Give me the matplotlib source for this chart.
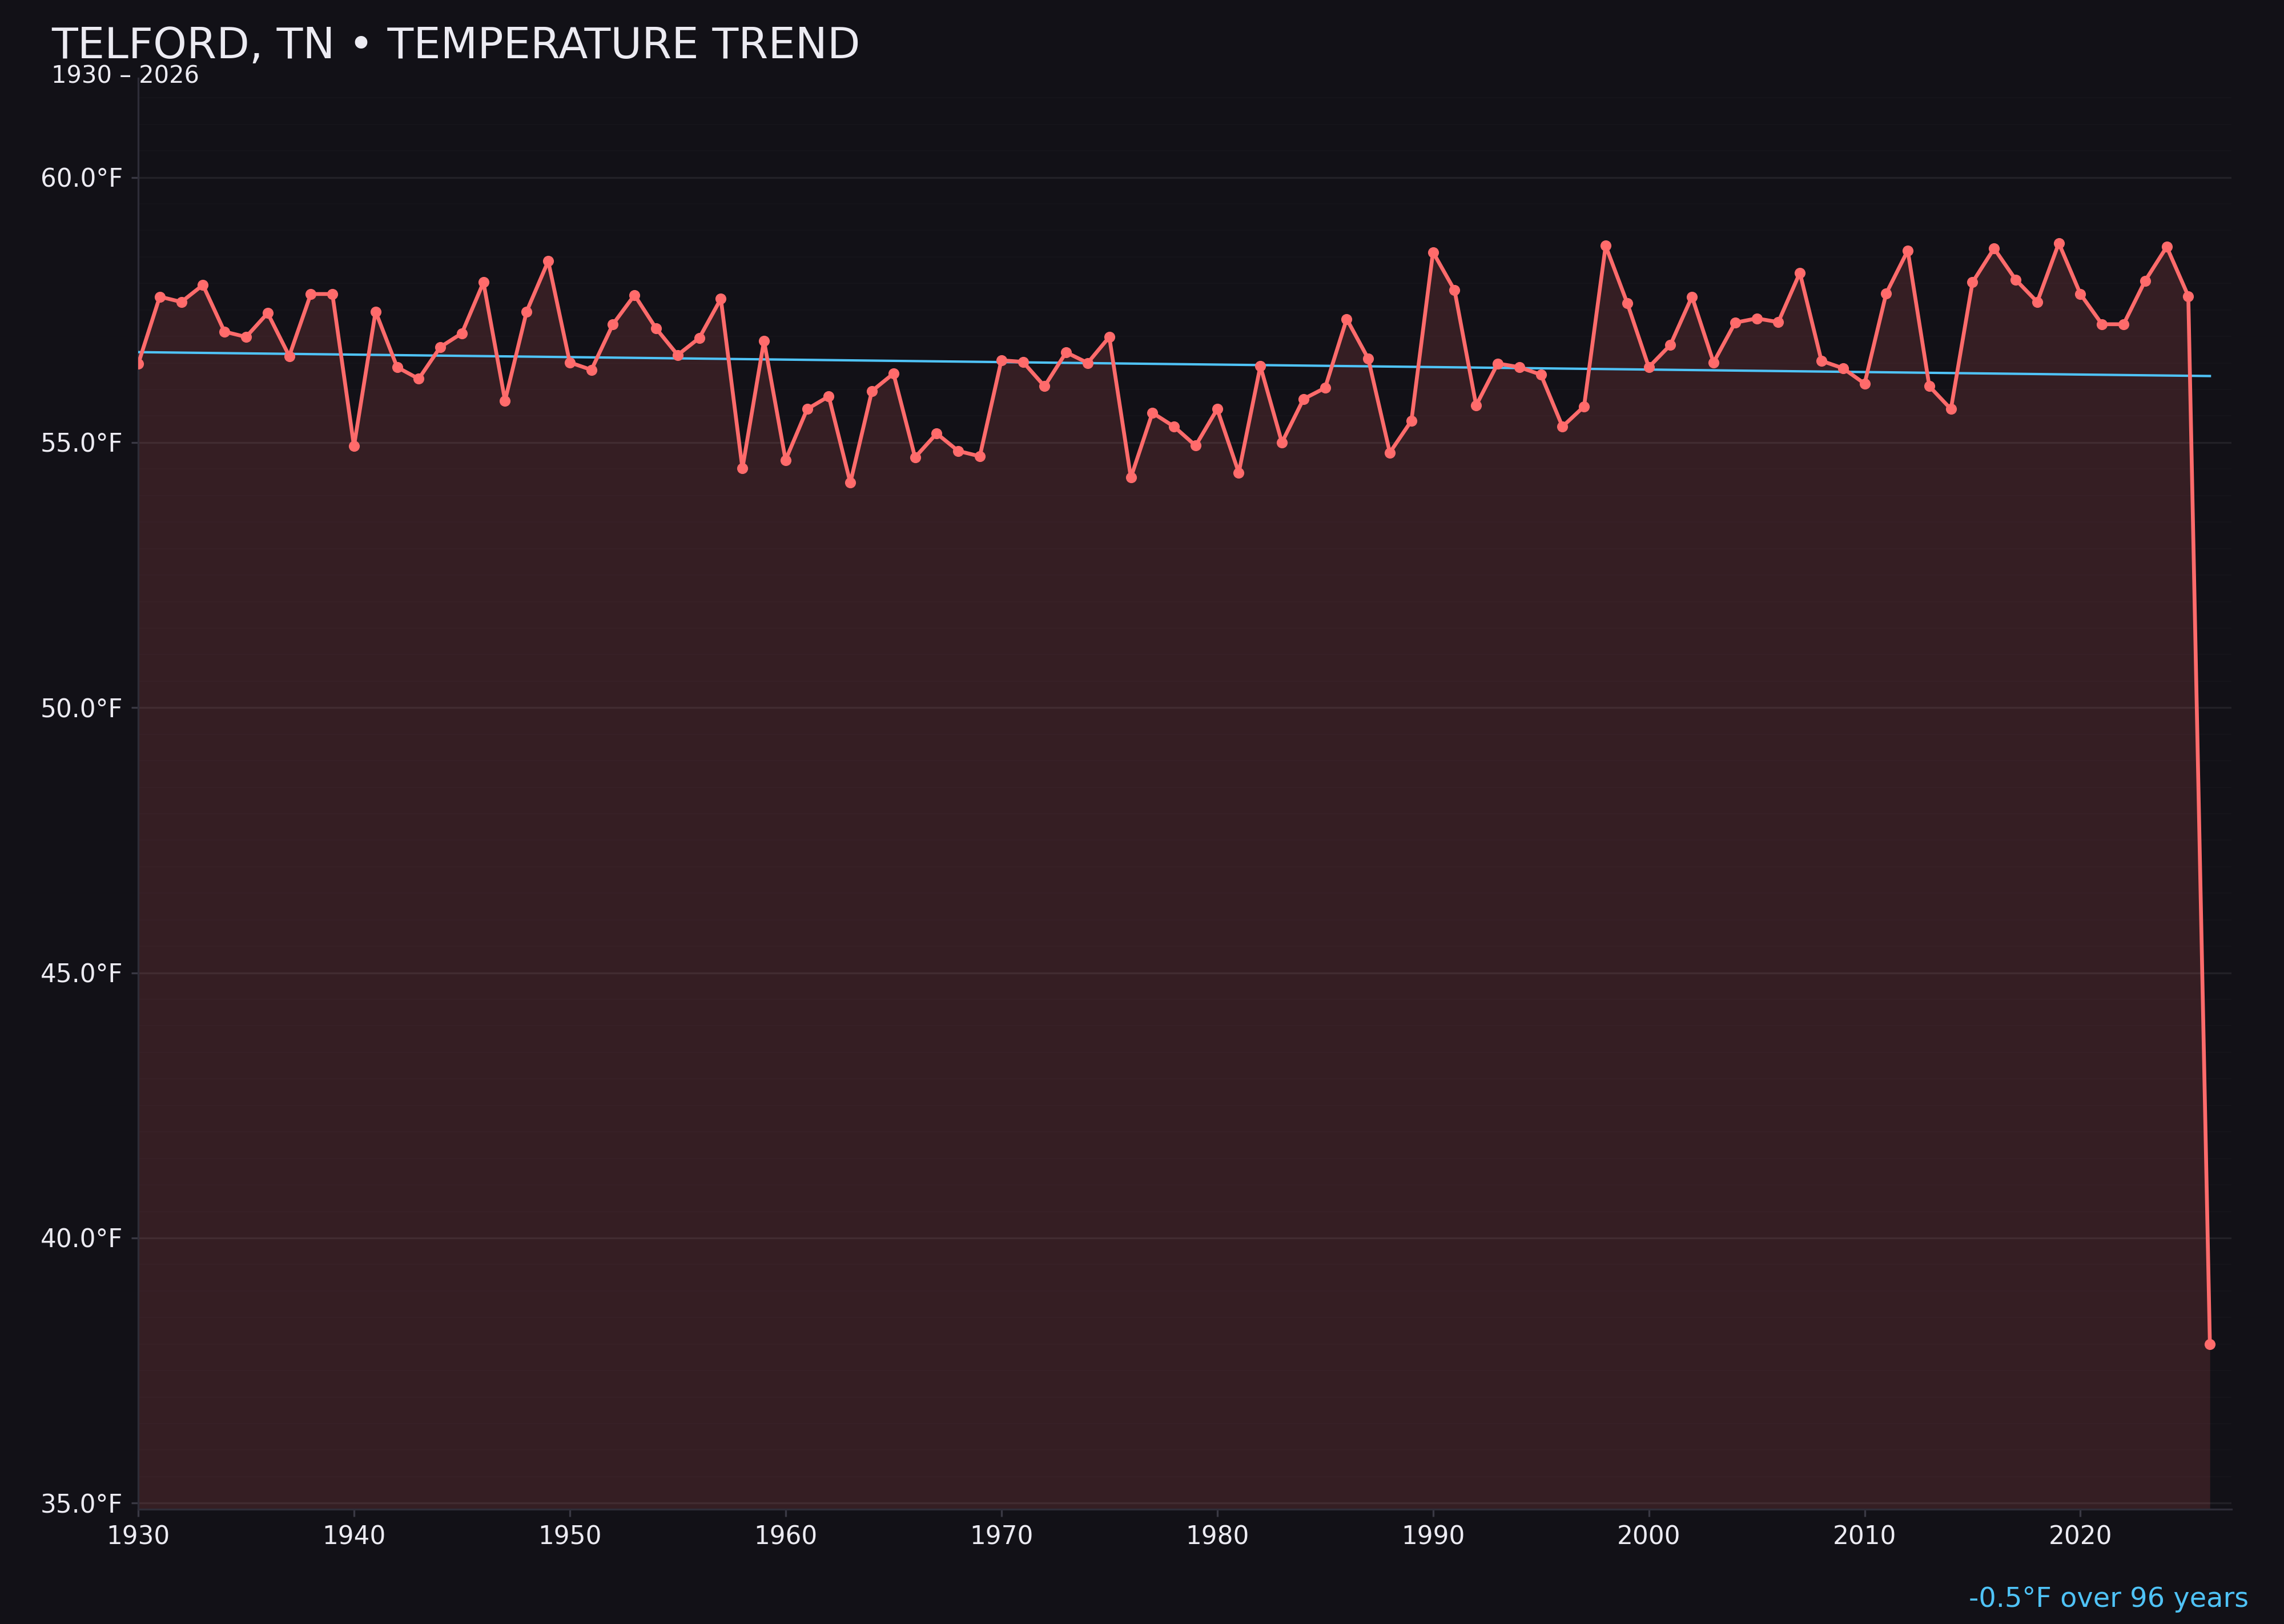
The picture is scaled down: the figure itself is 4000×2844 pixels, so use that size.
import numpy as np
import matplotlib
matplotlib.use("Agg")
import matplotlib.pyplot as plt
from matplotlib.ticker import MultipleLocator, FuncFormatter

# annual mean temperature, Telford TN
years = list(range(1930, 2027))
temps = [
    56.48, 57.75, 57.65, 57.97, 57.09, 56.99, 57.44, 56.63, 57.80, 57.80,  # 1930s
    54.93, 57.47, 56.42, 56.20, 56.80, 57.06, 58.02, 55.79, 57.47, 58.42,  # 1940s
    56.51, 56.37, 57.23, 57.78, 57.15, 56.65, 56.97, 57.71, 54.51, 56.92,  # 1950s
    54.67, 55.63, 55.87, 54.24, 55.97, 56.30, 54.72, 55.17, 54.84, 54.74,  # 1960s
    56.55, 56.52, 56.06, 56.70, 56.50, 56.99, 54.34, 55.56, 55.30, 54.94,  # 1970s
    55.63, 54.43, 56.44, 55.00, 55.82, 56.03, 57.33, 56.58, 54.81, 55.41,  # 1980s
    58.59, 57.87, 55.70, 56.49, 56.42, 56.28, 55.30, 55.68, 58.71, 57.63,  # 1990s
    56.42, 56.84, 57.75, 56.51, 57.26, 57.34, 57.27, 58.20, 56.54, 56.40,  # 2000s
    56.11, 57.81, 58.62, 56.06, 55.63, 58.02, 58.66, 58.07, 57.65, 58.76,  # 2010s
    57.80, 57.23, 57.23, 58.05, 58.69, 57.76, 38.00,                      # 2020s
]

title = "TELFORD, TN \u2022 TEMPERATURE TREND"
subtitle = "1930 \u2013 2026"

BG = "#121117"
RED = "#ff6b6b"
BLUE = "#4fc3f7"
TXT = "#ecebf2"

x = np.array(years, dtype=float)
y = np.array(temps)

slope, intercept = np.polyfit(x, y, 1)
trend = slope * x + intercept
span = years[-1] - years[0]
change = slope * span

fig = plt.figure(figsize=(40 / 3, 9.48), dpi=300, facecolor=BG)
ax = fig.add_axes([0.0605, 0.0707, 0.9165, 0.8813])
ax.set_facecolor(BG)

pad = (y.max() - y.min()) * 0.15
ymin, ymax = y.min() - pad, y.max() + pad

ax.fill_between(x, y, ymin, color=RED, alpha=0.15, linewidth=0, zorder=2)
ax.plot(x, y, color=RED, lw=1.6, marker="o", ms=3.6, zorder=4)
ax.plot(x, trend, color=BLUE, lw=1.0, zorder=3)

ax.set_xlim(1930, 2027)
ax.set_ylim(ymin, ymax)

ax.xaxis.set_major_locator(MultipleLocator(10))
ax.yaxis.set_major_locator(MultipleLocator(5))
ax.yaxis.set_minor_locator(MultipleLocator(0.5))
ax.yaxis.set_major_formatter(FuncFormatter(lambda v, p: f"{v:.1f}\u00b0F"))

ax.grid(True, axis="y", which="major", color="#ffffff", alpha=0.07, lw=0.8, zorder=1)
ax.grid(True, axis="y", which="minor", color="#ffffff", alpha=0.015, lw=0.5, zorder=1)
ax.set_axisbelow(True)

for side in ["top", "right"]:
    ax.spines[side].set_visible(False)
for side in ["left", "bottom"]:
    ax.spines[side].set_color("#2e2d38")
    ax.spines[side].set_linewidth(0.8)

ax.tick_params(axis="both", which="major", colors="#3a3944", labelcolor=TXT,
               labelsize=10.5, length=3, width=0.8)
ax.tick_params(axis="y", which="minor", length=0)

fig.text(0.0225, 0.964, title, color=TXT, fontsize=18, ha="left", va="baseline")
fig.text(0.0225, 0.949, subtitle, color=TXT, fontsize=10, ha="left", va="baseline")
fig.text(0.9845, 0.0105, f"{change:.1f}\u00b0F over {span} years", color=BLUE,
         fontsize=11.5, ha="right", va="baseline")

fig.savefig("out.png", dpi=300, facecolor=BG)
